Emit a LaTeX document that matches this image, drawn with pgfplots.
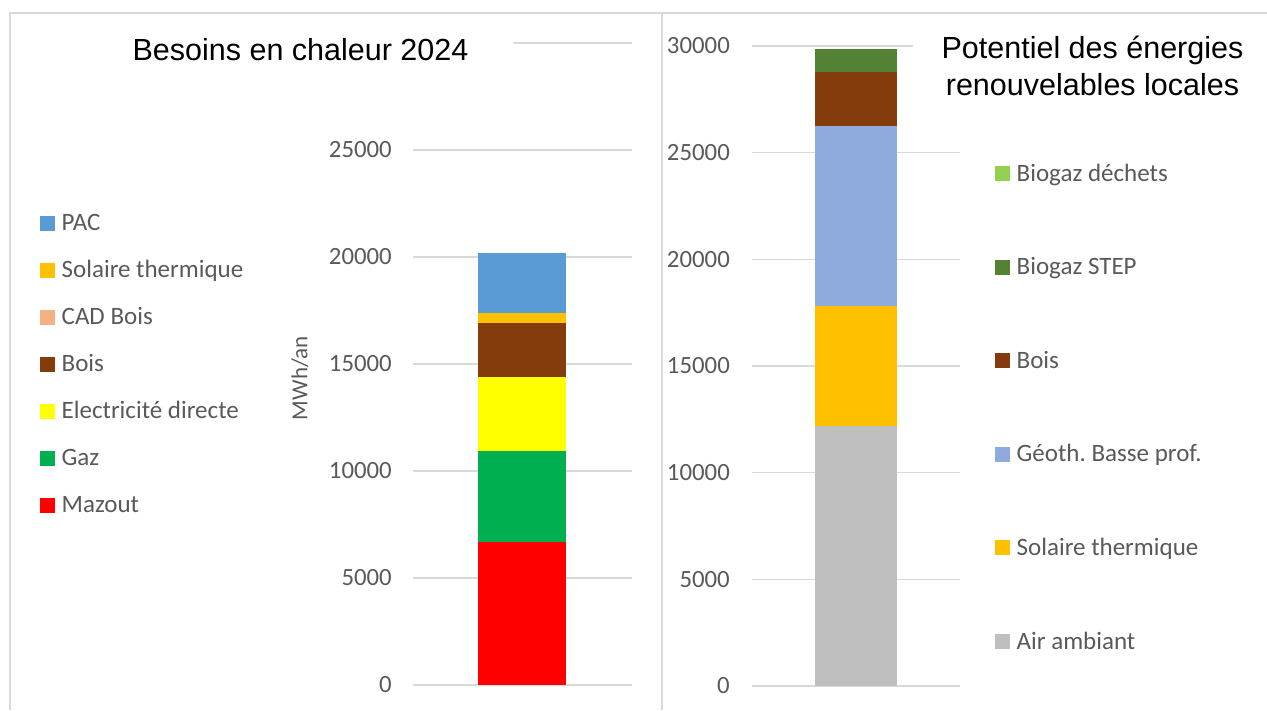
\documentclass[border=0pt]{standalone}
\usepackage{pgfplots}
\pgfplotsset{compat=1.18}
\usepackage{fontspec}
\setmainfont{Carlito}
\newfontfamily\arialf{Liberation Sans}
\frenchspacing
\definecolor{gridc}{HTML}{D9D9D9}
\definecolor{txtc}{HTML}{595959}
\definecolor{cmazout}{HTML}{FF0000}
\definecolor{cgaz}{HTML}{00B050}
\definecolor{celec}{HTML}{FFFF00}
\definecolor{cbois}{HTML}{843C0C}
\definecolor{ccad}{HTML}{F4B183}
\definecolor{csol}{HTML}{FFC000}
\definecolor{cpac}{HTML}{5B9BD5}
\definecolor{cair}{HTML}{BFBFBF}
\definecolor{cgeo}{HTML}{8FAADC}
\definecolor{cstep}{HTML}{548235}
\definecolor{cdech}{HTML}{92D050}
\pgfplotsset{
  sq/.style={fill=#1, draw=none,
    legend image code/.code={\fill[#1] (0pt,0pt) rectangle (15pt,15pt);}},
  myaxis/.style={
    scale only axis, anchor=south west,
    ybar stacked, ymin=0, ymax=30000, xmin=-1, xmax=1,
    xtick=\empty, ytick={0,5000,...,30000},
    scaled y ticks=false,
    ymajorgrids, grid style={gridc, line width=1.3pt},
    axis line style={draw=none}, major tick style={draw=none},
    /pgf/number format/assume math mode=true,
    /pgf/number format/1000 sep={},
    tick label style={font=\fontsize{24.8}{29}\selectfont, text=txtc},
    yticklabel style={inner sep=0pt},
    reverse legend,
    legend cell align=left,
    legend style={draw=none, fill=none, inner sep=0pt, outer sep=0pt,
      anchor=north west, font=\fontsize{25}{29}\selectfont, text=txtc,
      nodes={inner sep=0pt, anchor=base west, text height=17pt, text depth=6pt},
      column sep=6.7pt},
  }
}
\begin{document}
\begin{tikzpicture}[x=1pt,y=1pt]
\path[use as bounding box] (0,0) rectangle (1267,710);

\begin{axis}[myaxis, at={(413pt,25pt)}, width=219pt, height=642pt, bar width=88pt,
  yticklabels={0,5000,10000,15000,20000,25000,{}},
  yticklabel style={xshift=-21pt},
  ylabel={MWh/an},
  ylabel style={at={(axis description cs:-0.516,0.478)}, anchor=center,
    font=\fontsize{23}{28}\selectfont, text=txtc},
  legend style={at={(axis description cs:-1.7032,0.7341)}, row sep=24pt}]
\addplot[sq=cmazout] coordinates {(0,6700)};
\addlegendentry{Mazout}
\addplot[sq=cgaz] coordinates {(0,4250)};
\addlegendentry{Gaz}
\addplot[sq=celec] coordinates {(0,3450)};
\addlegendentry{Electricité directe}
\addplot[sq=cbois] coordinates {(0,2500)};
\addlegendentry{Bois}
\addplot[sq=ccad] coordinates {(0,0)};
\addlegendentry{CAD Bois}
\addplot[sq=csol] coordinates {(0,500)};
\addlegendentry{Solaire thermique}
\addplot[sq=cpac] coordinates {(0,2800)};
\addlegendentry{PAC}
\end{axis}

\begin{axis}[myaxis, at={(752pt,24pt)}, width=208pt, height=640pt, bar width=82pt,
  yticklabel style={xshift=-22pt},
  legend style={at={(axis description cs:1.1683,0.8156)}, row sep=70.6pt}]
\addplot[sq=cair] coordinates {(0,12200)};
\addlegendentry{Air ambiant}
\addplot[sq=csol] coordinates {(0,5600)};
\addlegendentry{Solaire thermique}
\addplot[sq=cgeo] coordinates {(0,8450)};
\addlegendentry{Géoth. Basse prof.}
\addplot[sq=cbois] coordinates {(0,2550)};
\addlegendentry{Bois}
\addplot[sq=cstep] coordinates {(0,1050)};
\addlegendentry{Biogaz STEP}
\addplot[sq=cdech] coordinates {(0,0)};
\addlegendentry{Biogaz déchets}
\end{axis}

\node[fill=white, minimum width=425pt, inner sep=10pt,
  font=\arialf\fontsize{30.5}{37}\selectfont] at (300.5,660) {Besoins en chaleur 2024};
\node[fill=white, minimum width=359pt, inner sep=10pt, align=center,
  font=\arialf\fontsize{30.5}{37}\selectfont] at (1092.5,644.5)
  {Potentiel des énergies\\renouvelables locales};

\draw[gridc, line width=2pt] (9.5,0) -- (9.5,697.3) -- (1268,697.3);
\draw[gridc, line width=2pt] (662,0) -- (662,697.3);
\end{tikzpicture}
\end{document}
